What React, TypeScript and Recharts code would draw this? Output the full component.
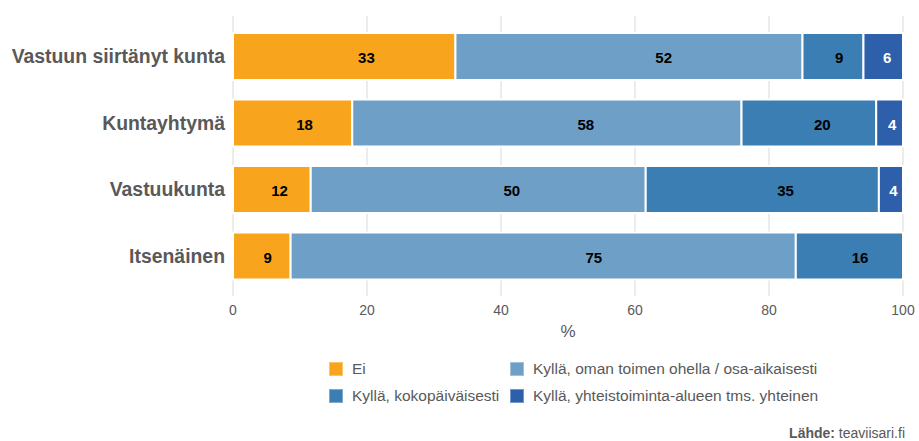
import { Bar, BarChart, CartesianGrid, LabelList, Legend, XAxis, YAxis } from 'recharts';

const categories = ['Vastuun siirtänyt kunta', 'Kuntayhtymä', 'Vastuukunta', 'Itsenäinen'];
const ei = [33.2, 17.8, 11.6, 8.6];
const omanToimen = [51.8, 58.1, 50.0, 75.4];
const kokopaiva = [9.1, 20.1, 34.8, 16.0];
const yhteinen = [5.9, 4.0, 3.6, 0];
const xTicks = [0, 20, 40, 60, 80, 100];

const FONT = '"Liberation Sans", Arial, Helvetica, sans-serif';

const series = [
  { key: 'ei', name: 'Ei', color: '#f8a51d', text: '#000' },
  { key: 'oman', name: 'Kyllä, oman toimen ohella / osa-aikaisesti', color: '#6ea0c7', text: '#000' },
  { key: 'koko', name: 'Kyllä, kokopäiväisesti', color: '#3a7eb4', text: '#000' },
  { key: 'yht', name: 'Kyllä, yhteistoiminta-alueen tms. yhteinen', color: '#2d5faa', text: '#fff' },
];

const data = categories.map((name, i) => ({
  name,
  ei: ei[i],
  oman: omanToimen[i],
  koko: kokopaiva[i],
  yht: yhteinen[i],
}));

// labels sit a bit right of the segment centre, like in the original
const segmentLabel = (fill: string) => (props: any) => {
  const { x, y, width, height, value } = props;
  if (!value) return null;
  return (
    <text
      x={Number(x) + Number(width) * 0.6}
      y={Number(y) + Number(height) / 2 + 1}
      textAnchor="middle"
      dominantBaseline="central"
      fill={fill}
      fontSize={15}
      fontWeight="bold"
      fontFamily={FONT}
    >
      {Math.round(value)}
    </text>
  );
};

const renderLegend = (props: any) => {
  const order = series.map((s) => s.name);
  const payload = [...(props.payload || [])].sort(
    (a: any, b: any) => order.indexOf(a.value) - order.indexOf(b.value),
  );
  return (
    <div
      style={{
        display: 'grid',
        gridTemplateColumns: '181px auto',
        gridAutoRows: '27px',
        paddingLeft: 329,
        fontFamily: FONT,
        fontSize: 15.5,
        color: '#595959',
      }}
    >
      {payload.map((p: any) => (
        <div key={p.value} style={{ display: 'flex', alignItems: 'center' }}>
          <span
            style={{
              width: 14,
              height: 14,
              background: p.color,
              boxShadow: 'inset 0 0 0 1px rgba(255,255,255,0.35)',
              marginRight: 9,
              flexShrink: 0,
            }}
          />
          <span style={{ whiteSpace: 'nowrap' }}>{p.value}</span>
        </div>
      ))}
    </div>
  );
};

export default function App() {
  return (
    <div style={{ position: 'absolute', left: 0, top: 0, width: 919, height: 441, background: '#fff' }}>
      <BarChart
        width={919}
        height={441}
        data={data}
        layout="vertical"
        margin={{ top: 16, right: 16, left: 0, bottom: 45 }}
        barSize={47}
      >
        <CartesianGrid horizontal={false} stroke="#e6e6e6" strokeWidth={1.5} />
        <XAxis
          type="number"
          domain={[0, 100]}
          ticks={xTicks}
          axisLine={false}
          tickLine={false}
          tickSize={0}
          tickMargin={9}
          height={46}
          tick={{ fill: '#595959', fontSize: 14, fontFamily: FONT }}
          label={{ value: '%', position: 'insideBottom', offset: 5, fill: '#595959', fontSize: 17, fontFamily: FONT }}
        />
        <YAxis
          type="category"
          dataKey="name"
          width={233}
          axisLine={false}
          tickLine={false}
          tickSize={0}
          tickMargin={8}
          padding={{ top: 7, bottom: 7 }}
          tick={{ fill: '#595959', fontSize: 19.4, fontWeight: 'bold', fontFamily: FONT }}
        />
        <Legend
          verticalAlign="bottom"
          content={renderLegend}
          wrapperStyle={{ left: 0, width: 919, top: 355 }}
        />
        {series.map((s) => (
          <Bar
            key={s.key}
            dataKey={s.key}
            name={s.name}
            stackId="a"
            fill={s.color}
            stroke="#ffffff"
            strokeWidth={2}
            isAnimationActive={false}
          >
            <LabelList dataKey={s.key} content={segmentLabel(s.text)} />
          </Bar>
        ))}
      </BarChart>
      <div
        style={{
          position: 'absolute',
          right: 14,
          top: 426,
          fontFamily: FONT,
          fontSize: 14,
          lineHeight: '14px',
          color: '#595959',
        }}
      >
        <b>Lähde:</b> teaviisari.fi
      </div>
    </div>
  );
}
